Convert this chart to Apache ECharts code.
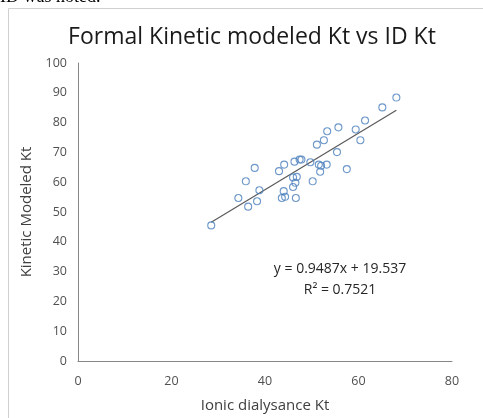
<!DOCTYPE html>
<html>
<head>
<meta charset="utf-8">
<style>
html,body{margin:0;padding:0;background:#fff;}
#chart{width:483px;height:418px;}
</style>
<script src="https://cdn.jsdelivr.net/npm/echarts@6/dist/echarts.min.js"></script>
</head>
<body>
<div id="chart"></div>
<script>
var titleText = "Formal Kinetic modeled Kt vs ID Kt";
var xAxisName = "Ionic dialysance Kt";
var yAxisName = "Kinetic Modeled Kt";
var idKt = [28.5,34.3,35.9,36.4,37.8,38.3,38.8,43.0,43.6,44.1,44.0,44.3,46.0,46.0,46.3,46.5,46.6,46.8,47.4,47.8,49.7,50.2,51.1,51.5,52.0,51.8,52.6,53.2,53.3,55.4,55.7,57.5,59.4,60.4,61.4,65.1,68.1];
var kineticKt = [45.5,54.7,60.3,51.8,64.8,53.6,57.3,63.7,54.7,65.9,57.0,55.1,58.4,61.6,66.9,59.8,54.7,61.8,67.6,67.6,66.7,60.3,72.6,65.9,65.5,63.5,74.1,65.9,77.1,70.1,78.4,64.4,77.7,74.1,80.7,85.1,88.4];
var slope = 0.9487, intercept = 19.537, r2 = 0.7521;
var trendX = [28.5, 68.1];
var xTicks = [0, 20, 40, 60, 80];
var yTicks = [0, 10, 20, 30, 40, 50, 60, 70, 80, 90, 100];

var pts = idKt.map(function(x, i){ return [x, kineticKt[i]]; });
var trend = trendX.map(function(x){ return [x, slope * x + intercept]; });
var font = "'Open Sans', Lato, sans-serif";

var chart = echarts.init(document.getElementById('chart'));
chart.setOption({
  animation: false,
  backgroundColor: '#fff',
  grid: {left: 78, right: 31, top: 63, bottom: 57},
  xAxis: {
    type: 'value', min: 0, max: 80, interval: 20,
    name: xAxisName, nameLocation: 'middle', nameGap: 37,
    nameTextStyle: {fontFamily: font, fontSize: 15, color: '#404040'},
    axisLine: {show: true, lineStyle: {color: '#868686', width: 1}},
    axisTick: {show: false}, splitLine: {show: false},
    axisLabel: {fontFamily: font, fontSize: 12.5, color: '#505050', margin: 14,
      formatter: function(v){ return xTicks.indexOf(v) >= 0 ? String(v) : ''; }}
  },
  yAxis: {
    type: 'value', min: 0, max: 100, interval: 10,
    name: yAxisName, nameLocation: 'middle', nameGap: 40,
    nameTextStyle: {fontFamily: font, fontSize: 15, color: '#404040'},
    axisLine: {show: true, lineStyle: {color: '#868686', width: 1}},
    axisTick: {show: false}, splitLine: {show: false},
    axisLabel: {fontFamily: font, fontSize: 12.5, color: '#505050', margin: 11,
      formatter: function(v){ return yTicks.indexOf(v) >= 0 ? String(v) : ''; }}
  },
  series: [
    {
      type: 'line', data: trend, showSymbol: false, symbol: 'none',
      lineStyle: {color: '#5a5a5a', width: 1.2}, z: 1
    },
    {
      type: 'scatter', data: pts, symbol: 'circle', symbolSize: 7,
      itemStyle: {color: 'rgba(255,255,255,0)', borderColor: '#4a7ebb', borderWidth: 1.1}, z: 2
    }
  ],
  graphic: [
    {type: 'rect', shape: {x: 8.5, y: 8.5, width: 500, height: 500}, style: {fill: 'none', stroke: '#d0d0d0', lineWidth: 1}, z: -10},
    {type: 'text', left: 0, top: -12, style: {text: 'ID was noted.', font: "18px 'Liberation Serif', serif", fill: '#000'}},
    {type: 'text', x: 252, y: 37, style: {text: titleText, font: "23px " + font, fill: '#1a1a1a', align: 'center', verticalAlign: 'middle'}},
    {type: 'text', x: 340, y: 269, style: {text: 'y = ' + slope + 'x + ' + intercept, font: "14px " + font, fill: '#262626', align: 'center', verticalAlign: 'middle'}},
    {type: 'text', x: 340, y: 290, style: {text: 'R² = ' + r2, font: "14px " + font, fill: '#262626', align: 'center', verticalAlign: 'middle'}}
  ]
});
</script>
</body>
</html>
